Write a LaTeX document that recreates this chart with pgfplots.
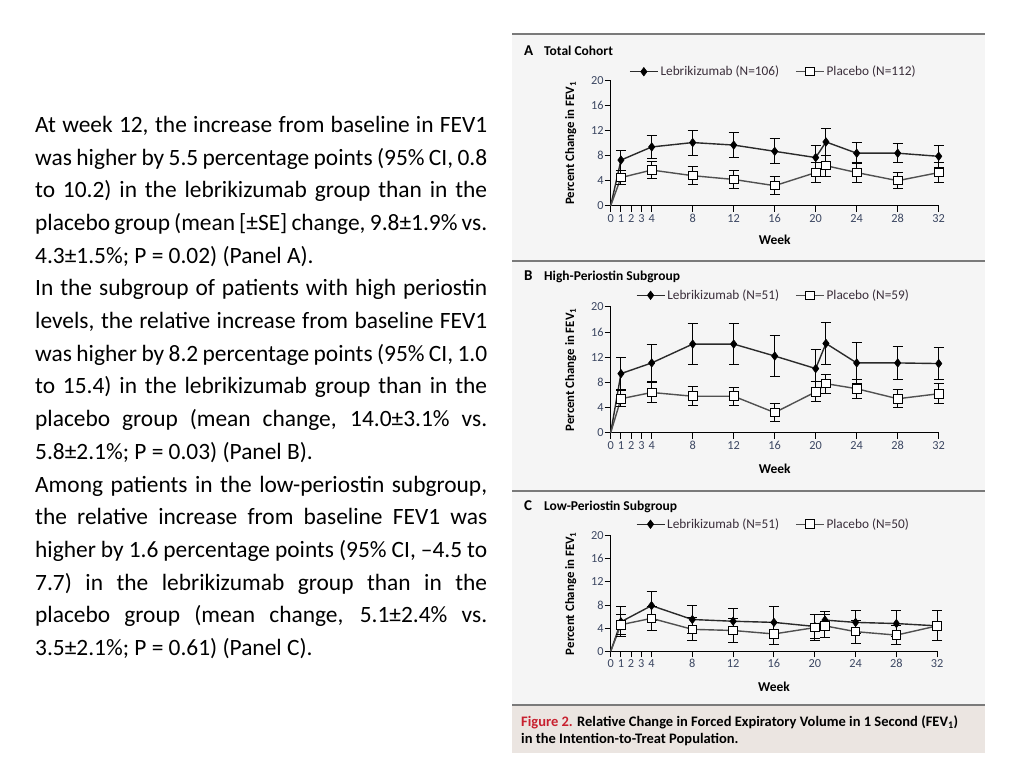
\documentclass[border=0pt]{standalone}
\usepackage{pgfplots}
\pgfplotsset{compat=1.18}
\usepackage{fontspec}
\setmainfont{Carlito}

\definecolor{figbg}{HTML}{F5F5F5}
\definecolor{capbg}{HTML}{EBE5E1}
\definecolor{rule}{HTML}{7A7A7A}
\definecolor{tickc}{HTML}{3C4762}
\definecolor{legc}{HTML}{3A2E3A}
\definecolor{figred}{HTML}{C8202F}
\definecolor{lebline}{HTML}{2A2A2A}
\definecolor{plaline}{HTML}{505050}

% one panel of the figure
\pgfplotsset{
  panel/.style={
    scale only axis,
    axis x line=bottom, axis y line=left,
    axis line style={-, line width=1pt, black},
    xmin=0, xmax=32, ymin=0, ymax=20,
    xtick={0,1,2,3,4,8,12,16,20,24,28,32},
    ytick={0,4,8,12,16,20},
    tick align=outside, major tick length=6pt,
    tick style={line width=1pt, black},
    /pgf/number format/assume math mode=true,
    ticklabel style={font=\fontsize{12.3}{13}\selectfont, text=tickc},
    xticklabel style={anchor=north, text height=7.8pt, text depth=0pt,
      inner sep=0pt, yshift=-2.5pt},
    yticklabel style={inner sep=1pt},
    xlabel={Week},
    ylabel={Percent Change in FEV\textsubscript{1}},
    xlabel style={font=\bfseries\fontsize{13.5}{14}\selectfont, text=black},
    ylabel style={font=\bfseries\fontsize{12.8}{14}\selectfont, text=black},
    legend columns=2,
    legend style={draw=none, fill=none, anchor=center,
      font=\fontsize{13.3}{14}\selectfont, text=legc,
      /tikz/every even column/.append style={column sep=14pt}},
    legend image code/.code={
      \draw[mark repeat=2, mark phase=2, ##1] plot coordinates {(0pt,0pt) (14pt,0pt) (28pt,0pt)};},
    clip=false,
  },
  leb/.style={lebline, line width=1.4pt, mark=diamond*, mark size=4.2pt,
    mark options={solid, fill=black, draw=black, line width=0.6pt}},
  pla/.style={plaline, line width=1.4pt, mark=square*, mark size=4.3pt,
    mark options={solid, fill=white, draw=black, line width=1pt}},
  bars/.style={error bars/.cd, y dir=both, y explicit,
    error bar style={line width=1pt, black},
    error mark options={rotate=90, mark size=5pt, line width=1pt, black}},
}

\begin{document}
\begin{tikzpicture}[x=1pt, y=1pt]
% page and figure backgrounds (pixel units, y measured from the bottom)
\fill[white] (0,0) rectangle (1024,768);
\fill[figbg] (512,63) rectangle (985,734);
\fill[capbg] (512,15) rectangle (985,63);
\draw[rule, line width=1.2pt] (512,734) -- (985,734);
\draw[rule, line width=1.2pt] (512,507) -- (985,507);
\draw[rule, line width=1.2pt] (512,277) -- (985,277);
\draw[rule, line width=1.2pt] (512,63) -- (985,63);

% left-hand text
\node[anchor=north west, inner sep=0pt, text width=452pt, align=justify,
      font=\fontsize{23.4}{32.69}\selectfont] at (35,652) {%
At week 12, the increase from baseline in FEV1\linebreak
was higher by 5.5 percentage points (95\% CI, 0.8\linebreak
to 10.2) in the lebrikizumab group than in the\linebreak
placebo group (mean [±SE] change, 9.8±1.9\% vs.\linebreak
4.3±1.5\%; P = 0.02) (Panel A).\par
In the subgroup of patients with high periostin\linebreak
levels, the relative increase from baseline FEV1\linebreak
was higher by 8.2 percentage points (95\% CI, 1.0\linebreak
to 15.4) in the lebrikizumab group than in the\linebreak
placebo group (mean change, 14.0±3.1\% vs.\linebreak
5.8±2.1\%; P = 0.03) (Panel B).\par
Among patients in the low-periostin subgroup,\linebreak
the relative increase from baseline FEV1 was\linebreak
higher by 1.6 percentage points (95\% CI, –4.5 to\linebreak
7.7) in the lebrikizumab group than in the\linebreak
placebo group (mean change, 5.1±2.4\% vs.\linebreak
3.5±2.1\%; P = 0.61) (Panel C).};

% panel titles
\node[anchor=base west, inner sep=0pt, font=\bfseries\fontsize{15}{16}\selectfont] at (524,712.5) {A};
\node[anchor=base west, inner sep=0pt, font=\bfseries\fontsize{13.5}{14}\selectfont] at (544,712.5) {Total Cohort};
\node[anchor=base west, inner sep=0pt, font=\bfseries\fontsize{15}{16}\selectfont] at (524,487) {B};
\node[anchor=base west, inner sep=0pt, font=\bfseries\fontsize{13.5}{14}\selectfont] at (544,487) {High-Periostin Subgroup};
\node[anchor=base west, inner sep=0pt, font=\bfseries\fontsize{15}{16}\selectfont] at (524,257.5) {C};
\node[anchor=base west, inner sep=0pt, font=\bfseries\fontsize{13.5}{14}\selectfont] at (544,257.5) {Low-Periostin Subgroup};

% caption (base anchor = baseline of the last line)
\node[anchor=base west, inner sep=0pt, align=left,
      font=\bfseries\fontsize{14.5}{16.6}\selectfont] at (521,25) {%
\textcolor{figred}{Figure 2.} Relative Change in Forced Expiratory Volume in 1 Second (FEV\textsubscript{1})\\
in the Intention-to-Treat Population.};

% Panel A: total cohort
\begin{axis}[panel, at={(610.7pt,562.3pt)}, anchor=south west,
  width=328pt, height=125pt,
  legend style={at={(0.496,1.072)}},
  xlabel style={at={(axis description cs:0.5,-0.272)}, anchor=center},
  ylabel style={at={(axis description cs:-0.122,0.5)}, anchor=center}]
\addplot[leb, no marks, forget plot] coordinates {(0,0) (1,7.3)};
\addplot[pla, no marks, forget plot] coordinates {(0,0) (1,4.5)};
\addplot[leb, bars] table[x=w, y=m, y error=e] {
w m e
1 7.3 1.6
4 9.4 1.9
8 10.1 2.0
12 9.7 1.95
16 8.7 2.0
20 7.7 2.0
21 10.2 2.1
24 8.4 1.7
28 8.4 1.55
32 7.9 1.75
};
\addplot[pla, bars] table[x=w, y=m, y error=e] {
w m e
1 4.5 1.1
4 5.7 1.4
8 4.8 1.45
12 4.2 1.4
16 3.2 1.45
20 5.3 1.6
21 6.4 1.7
24 5.3 1.55
28 4.0 1.3
32 5.3 1.6
};
\legend{Lebrikizumab (N=106), Placebo (N=112)}
\end{axis}

% Panel B: high-periostin subgroup
\begin{axis}[panel, at={(610.7pt,335.3pt)}, anchor=south west,
  width=328pt, height=125.7pt,
  legend style={at={(0.496,1.093)}},
  xlabel style={at={(axis description cs:0.5,-0.286)}, anchor=center},
  ylabel style={at={(axis description cs:-0.122,0.5)}, anchor=center}]
\addplot[leb, no marks, forget plot] coordinates {(0,0) (1,9.4)};
\addplot[pla, no marks, forget plot] coordinates {(0,0) (1,5.4)};
\addplot[leb, bars] table[x=w, y=m, y error=e] {
w m e
1 9.4 2.5
4 11.1 2.9
8 14.1 3.2
12 14.1 3.2
16 12.2 3.2
20 10.2 3.0
21 14.2 3.4
24 11.1 3.2
28 11.1 2.6
32 11.0 2.6
};
\addplot[pla, bars] table[x=w, y=m, y error=e] {
w m e
1 5.4 1.3
4 6.4 1.55
8 5.8 1.5
12 5.8 1.4
16 3.2 1.4
20 6.5 1.6
21 7.8 1.5
24 7.0 1.5
28 5.4 1.4
32 6.2 1.6
};
\legend{Lebrikizumab (N=51), Placebo (N=59)}
\end{axis}

% Panel C: low-periostin subgroup
\begin{axis}[panel, at={(610.7pt,116.7pt)}, anchor=south west,
  width=326.5pt, height=115.6pt,
  legend style={at={(0.498,1.099)}},
  xlabel style={at={(axis description cs:0.5,-0.306)}, anchor=center},
  ylabel style={at={(axis description cs:-0.1225,0.5)}, anchor=center}]
\addplot[leb, no marks, forget plot] coordinates {(0,0) (1,5.1)};
\addplot[pla, no marks, forget plot] coordinates {(0,0) (1,4.6)};
\addplot[leb, bars] table[x=w, y=m, y error=e] {
w m e
1 5.1 2.6
4 7.9 2.5
8 5.5 2.5
12 5.2 2.2
16 5.0 2.8
20 4.3 2.1
21 5.4 1.4
24 5.0 2.0
28 4.8 2.2
32 4.4 2.6
};
\addplot[pla, bars] table[x=w, y=m, y error=e] {
w m e
1 4.6 1.7
4 5.7 2.1
8 3.8 2.0
12 3.6 2.1
16 3.0 1.9
20 4.1 2.3
21 4.4 2.0
24 3.4 2.0
28 2.8 1.7
32 4.4 2.6
};
\legend{Lebrikizumab (N=51), Placebo (N=50)}
\end{axis}
\end{tikzpicture}
\end{document}
